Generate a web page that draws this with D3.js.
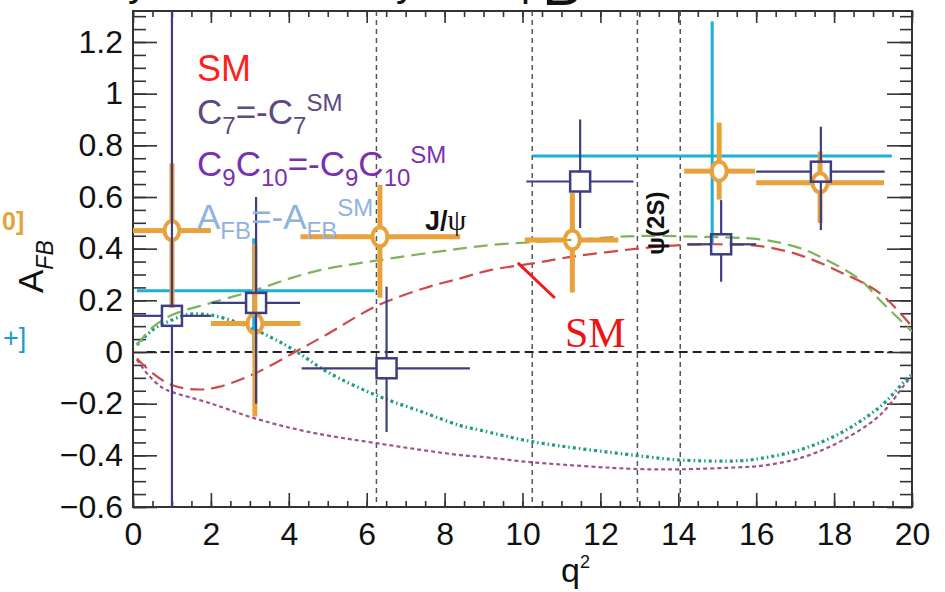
<!DOCTYPE html>
<html><head><meta charset="utf-8">
<script src="https://cdn.jsdelivr.net/npm/d3@7"></script>
<style>html,body{margin:0;padding:0;background:#fff;overflow:hidden}</style>
</head><body>
<svg id="c" width="945" height="592"></svg>
<script>
// ---- data ----
const xTicks = [0,2,4,6,8,10,12,14,16,18,20];
const yTicks = [-0.6,-0.4,-0.2,0,0.2,0.4,0.6,0.8,1,1.2];
const yTickLabels = ["\u22120.6","\u22120.4","\u22120.2","0","0.2","0.4","0.6","0.8","1","1.2"];
const vetoLines = [6.25, 10.25, 12.95, 14.05];

// orange (circles)
const orQ    = [1.0, 3.13, 6.34, 11.28, 15.05, 17.64];
const orA    = [0.47, 0.11, 0.446, 0.434, 0.70, 0.655];
const orQLo  = [0.0, 2.0, 4.3, 10.06, 14.15, 16.0];
const orQHi  = [2.0, 4.3, 8.4, 12.46, 15.97, 19.28];
const orALo  = [0.17, -0.25, 0.21, 0.23, 0.59, 0.50];
const orAHi  = [0.73, 0.42, 0.647, 0.615, 0.888, 0.776];

// navy (squares)
const nvQ    = [1.0, 3.16, 6.51, 11.48, 15.1, 17.66];
const nvA    = [0.14, 0.19, -0.063, 0.66, 0.417, 0.698];
const nvQLo  = [0.0, 2.02, 4.33, 10.1, 14.23, 16.0];
const nvQHi  = [2.0, 4.29, 8.65, 12.85, 16.0, 19.3];
const nvALo  = [-0.7, -0.2, -0.31, 0.48, 0.272, 0.472];
const nvAHi  = [1.5, 0.6, 0.253, 0.90, 0.588, 0.872];

// cyan (bars only)
const cyQ    = [3.1, 14.87];
const cyA    = [0.237, 0.759];
const cyQLo  = [0.1, 10.26];
const cyQHi  = [6.2, 19.48];
const cyALo  = [0.0, 0.414];
const cyAHi  = [0.44, 1.28];

// curves
const smQ = [0.1,0.5,1,1.64,2.2,3.13,4.16,5,6.25,7.5,8.4,9.17,10.27,11.28,12.95,14.04,15.07,16.1,17.1,18.15,19.18,20];
const smA = [-0.025,-0.082,-0.128,-0.145,-0.135,-0.083,0,0.07,0.178,0.248,0.285,0.317,0.343,0.369,0.40,0.414,0.417,0.41,0.376,0.31,0.227,0.098];
const grQ = [0.1,0.5,1,2,3.15,4.03,4.8,6.34,8.4,9.17,10.27,11.28,12.95,14.55,16.1,17.0,17.64,18.67,19.18,20];
const grA = [0.027,0.095,0.143,0.19,0.24,0.285,0.317,0.356,0.40,0.414,0.425,0.434,0.449,0.446,0.436,0.408,0.369,0.279,0.2,0.079];
const tlQ = [0.1,0.5,1,1.4,2,2.75,3.5,4.16,5,6.25,7.5,8.4,8.9,10.25,12.95,14.04,15.6,16.1,17.1,18.15,19.18,19.8,20];
const tlA = [0.027,0.085,0.124,0.145,0.143,0.11,0.06,0.005,-0.078,-0.168,-0.236,-0.285,-0.302,-0.347,-0.401,-0.418,-0.421,-0.412,-0.38,-0.315,-0.212,-0.115,-0.085];
const puQ = [0.1,0.4,0.77,1,2,3.13,4.5,6.25,8.4,8.9,10.25,12.95,14.04,15.6,16.1,17.1,18.15,19.18,19.8,20];
const puA = [-0.03,-0.09,-0.14,-0.155,-0.199,-0.257,-0.309,-0.353,-0.399,-0.405,-0.427,-0.453,-0.454,-0.446,-0.441,-0.412,-0.347,-0.244,-0.128,-0.09];

// ---- drawing ----
const svg = d3.select("#c");
const W0 = 133, W1 = 912, H0 = 11, H1 = 507;
const x = d3.scaleLinear().domain([0,20]).range([W0,W1]);
const y = d3.scaleLinear().domain([-0.6,1.32]).range([H1,H0]);
const SANS = "'Liberation Sans', Arial, Helvetica, sans-serif";

svg.append("defs").append("clipPath").attr("id","pc")
  .append("rect").attr("x",W0).attr("y",H0).attr("width",W1-W0).attr("height",H1-H0);

// title fragments (cut off at top of the picture)
const tf = svg.append("g").attr("font-family",SANS).attr("fill","#111");
tf.append("text").attr("x",128).attr("y",-4).attr("font-size",40).text("y");
tf.append("text").attr("x",396).attr("y",-4).attr("font-size",40).text("y");
tf.append("text").attr("x",521).attr("y",-4).attr("font-size",40).text("p");
tf.append("text").attr("x",542).attr("y",5).attr("font-size",60).text("B");

// axes
function styleAxis(g){ g.select(".domain").remove(); g.selectAll("line").attr("stroke","#333").attr("stroke-width",1.6); }
const yMinor = d3.range(-0.6, 1.3201, 0.05).map(v=>+v.toFixed(2));
const xMinor = d3.range(0, 20.001, 0.5).map(v=>+v.toFixed(1));

svg.append("g").attr("transform",`translate(${W0},0)`)
  .call(d3.axisLeft(y).tickValues(yMinor).tickSize(-13).tickFormat("")).call(styleAxis);
svg.append("g").attr("transform",`translate(${W1},0)`)
  .call(d3.axisRight(y).tickValues(yMinor).tickSize(-12).tickFormat("")).call(styleAxis);
svg.append("g").attr("transform",`translate(0,${H1})`)
  .call(d3.axisBottom(x).tickValues(xMinor).tickSize(-6).tickFormat("")).call(styleAxis);
svg.append("g").attr("transform",`translate(0,${H0})`)
  .call(d3.axisTop(x).tickValues(xMinor).tickSize(-6).tickFormat("")).call(styleAxis);

const gl = svg.append("g").attr("transform",`translate(${W0},0)`)
  .call(d3.axisLeft(y).tickValues(yTicks).tickSize(-24).tickPadding(10)
    .tickFormat((d,i)=>yTickLabels[i])).call(styleAxis);
gl.selectAll("text").attr("font-size",32).attr("font-family",SANS).attr("fill","#111");
svg.append("g").attr("transform",`translate(${W1},0)`)
  .call(d3.axisRight(y).tickValues(yTicks).tickSize(-25).tickFormat("")).call(styleAxis);
const gb = svg.append("g").attr("transform",`translate(0,${H1})`)
  .call(d3.axisBottom(x).tickValues(xTicks).tickSize(-14).tickPadding(15).tickFormat(d3.format("d"))).call(styleAxis);
gb.selectAll("text").attr("font-size",32).attr("font-family",SANS).attr("fill","#111");
svg.append("g").attr("transform",`translate(0,${H0})`)
  .call(d3.axisTop(x).tickValues(xTicks).tickSize(-12).tickFormat("")).call(styleAxis);

svg.append("rect").attr("x",W0).attr("y",H0).attr("width",W1-W0).attr("height",H1-H0)
  .attr("fill","none").attr("stroke","#333").attr("stroke-width",2);

const plot = svg.append("g").attr("clip-path","url(#pc)");

// veto lines
plot.selectAll("line.veto").data(vetoLines).join("line").attr("class","veto")
  .attr("x1",d=>x(d)).attr("x2",d=>x(d)).attr("y1",H0).attr("y2",H1)
  .attr("stroke","#555").attr("stroke-width",1.5).attr("stroke-dasharray","5 4");

// zero line
plot.append("line").attr("x1",x(0.35)).attr("x2",x(19.5)).attr("y1",y(0)).attr("y2",y(0))
  .attr("stroke","#222").attr("stroke-width",2).attr("stroke-dasharray","9 5");

// curves
const line = d3.line().x(d=>x(d[0])).y(d=>y(d[1])).curve(d3.curveCatmullRom.alpha(0.5));
function curve(qs, as, color, w, dash){
  plot.append("path").datum(qs.map((q,i)=>[q,as[i]])).attr("d",line)
    .attr("fill","none").attr("stroke",color).attr("stroke-width",w).attr("stroke-dasharray",dash);
}
curve(puQ, puA, "#a0528e", 2.2, "4 3");
curve(tlQ, tlA, "#1b9c84", 3.2, "3 3 1.5 3");
curve(grQ, grA, "#7fb35a", 2.2, "14 7");
curve(smQ, smA, "#d24848", 2.2, "14 7");

// cyan bars
const cy = plot.append("g").attr("stroke","#1ab0d8").attr("stroke-width",3);
cyQ.forEach((q,i)=>{
  cy.append("line").attr("x1",x(cyQLo[i])).attr("x2",x(cyQHi[i])).attr("y1",y(cyA[i])).attr("y2",y(cyA[i]));
  cy.append("line").attr("x1",x(q)).attr("x2",x(q)).attr("y1",y(cyALo[i])).attr("y2",y(cyAHi[i]));
});

// orange circles
const orc = "#e9a23b";
const og = plot.append("g").attr("stroke",orc).attr("fill","none");
const rx = 7.5, ry = 9.5;
orQ.forEach((q,i)=>{
  const cx = x(q), cyy = y(orA[i]);
  og.append("line").attr("x1",x(orQLo[i])).attr("x2",cx-rx).attr("y1",cyy).attr("y2",cyy).attr("stroke-width",5);
  og.append("line").attr("x1",cx+rx).attr("x2",x(orQHi[i])).attr("y1",cyy).attr("y2",cyy).attr("stroke-width",5);
  og.append("line").attr("x1",cx).attr("x2",cx).attr("y1",y(orAHi[i])).attr("y2",cyy-ry).attr("stroke-width",5);
  og.append("line").attr("x1",cx).attr("x2",cx).attr("y1",cyy+ry).attr("y2",y(orALo[i])).attr("stroke-width",5);
  og.append("ellipse").attr("cx",cx).attr("cy",cyy).attr("rx",rx).attr("ry",ry).attr("stroke-width",4);
});

// navy squares
const ng = plot.append("g").attr("stroke","#3d3d86").attr("fill","none").attr("stroke-width",2.2);
const hs = 10;
nvQ.forEach((q,i)=>{
  const cx = x(q), cyy = y(nvA[i]);
  ng.append("line").attr("x1",x(nvQLo[i])).attr("x2",cx-hs).attr("y1",cyy).attr("y2",cyy);
  ng.append("line").attr("x1",cx+hs).attr("x2",x(nvQHi[i])).attr("y1",cyy).attr("y2",cyy);
  ng.append("line").attr("x1",cx).attr("x2",cx).attr("y1",y(nvAHi[i])).attr("y2",cyy-hs);
  ng.append("line").attr("x1",cx).attr("x2",cx).attr("y1",cyy+hs).attr("y2",y(nvALo[i]));
  ng.append("rect").attr("x",cx-hs).attr("y",cyy-hs).attr("width",2*hs).attr("height",2*hs).attr("stroke-width",2.5);
});

// red arrow line
svg.append("line").attr("x1",x(9.88)).attr("y1",y(0.345)).attr("x2",x(10.83)).attr("y2",y(0.209))
  .attr("stroke","#ee1c1c").attr("stroke-width",3);

// legend texts
const lg = svg.append("g").attr("font-family",SANS);
lg.append("text").attr("x",197).attr("y",81).attr("font-size",36).attr("fill","#ff1e1e").text("SM");
function formula(yy, color, parts){
  const t = lg.append("text").attr("x",197).attr("y",yy).attr("font-size",35).attr("fill",color);
  let shift = 0;
  parts.forEach(p=>{
    const target = p[1]==="sub" ? 10 : p[1]==="sup" ? -13 : 0;
    const fs = p[1]==="norm" ? 35 : 24;
    t.append("tspan").attr("dy",target-shift).attr("font-size",fs).text(p[0]);
    shift = target;
  });
}
formula(124, "#5c4a83", [["C","norm"],["7","sub"],["=-C","norm"],["7","sub"],["SM","sup"]]);
formula(176, "#7b30b4", [["C","norm"],["9","sub"],["C","norm"],["10","sub"],["=-C","norm"],["9","sub"],["C","norm"],["10","sub"],["SM","sup"]]);
formula(229, "#8fb2e2", [["A","norm"],["FB","sub"],["=-A","norm"],["FB","sub"],["SM","sup"]]);

// J/psi
const jp = svg.append("text").attr("x",425).attr("y",230).attr("font-size",27).attr("font-weight","bold")
  .attr("font-family",SANS).attr("fill","#111");
jp.append("tspan").text("J/");
jp.append("tspan").attr("font-family","'Liberation Serif', serif").attr("font-weight","normal").attr("font-size",30).text("\u03c8");

// psi(2S) rotated
svg.append("text").attr("transform",`translate(664,255) rotate(-90)`).attr("font-size",24)
  .attr("font-weight","bold").attr("font-family",SANS).attr("fill","#111").text("\u03c8(2S)");

// SM serif annotation
svg.append("text").attr("x",565).attr("y",347).attr("font-size",42).attr("font-family","'Liberation Serif', 'Times New Roman', serif")
  .attr("fill","#ee1414").text("SM");

// y title A_FB
const yt = svg.append("text").attr("transform","translate(43,293) rotate(-90)").attr("font-family",SANS).attr("fill","#111");
yt.append("tspan").attr("font-size",35).text("A");
yt.append("tspan").attr("font-size",23).attr("font-style","italic").attr("dy",10).text("FB");

// x title q^2
const xt = svg.append("text").attr("x",561).attr("y",582).attr("font-family",SANS).attr("fill","#111");
xt.append("tspan").attr("font-size",34).text("q");
xt.append("tspan").attr("font-size",18).attr("dy",-14).text("2");

// partial labels at the left edge
svg.append("text").attr("x",2).attr("y",230).attr("font-size",25).attr("font-weight","bold")
  .attr("font-family",SANS).attr("fill","#e9a23b").text("0]");
svg.append("text").attr("x",3).attr("y",347).attr("font-size",27)
  .attr("font-family",SANS).attr("fill","#1a9ccc").text("+]");
</script>
</body></html>
